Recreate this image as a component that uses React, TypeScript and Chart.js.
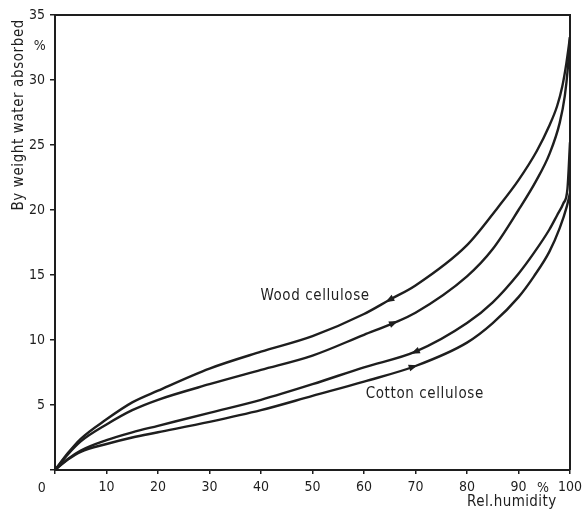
import React, { useEffect, useRef } from "react";
import { Chart, registerables } from "chart.js";

Chart.register(...registerables);

// Relative humidity (%) sample positions and water absorbed (% by weight)
const woodDesX = [0, 2.5, 5, 10, 15, 20, 30, 40, 50, 60, 65, 70, 80, 86, 90, 93.5, 96, 97.5, 98.5, 99.3, 100];
const woodDesY = [0, 1.3, 2.4, 3.9, 5.2, 6.1, 7.8, 9.1, 10.3, 12.0, 13.1, 14.2, 17.3, 20.2, 22.3, 24.5, 26.5, 28.0, 29.5, 31.3, 33.3];

const woodAbsX = [0, 2.5, 5, 10, 15, 20, 30, 40, 50, 60, 65.7, 70, 80, 85, 90, 93.5, 96, 98, 99, 99.6, 100];
const woodAbsY = [0, 1.2, 2.2, 3.5, 4.6, 5.4, 6.6, 7.7, 8.8, 10.4, 11.3, 12.1, 14.9, 17.0, 20.0, 22.3, 24.3, 26.7, 28.8, 31.0, 33.3];

const cottonDesX = [0, 2.5, 5, 10, 15, 20, 30, 40, 50, 60, 70, 80, 85, 90, 93, 96, 97.5, 98.7, 99.5, 100];
const cottonDesY = [0, 0.85, 1.5, 2.3, 2.9, 3.4, 4.4, 5.4, 6.6, 7.9, 9.1, 11.3, 12.9, 15.1, 16.7, 18.5, 19.6, 20.5, 21.6, 25.2];

const cottonAbsX = [0, 2.5, 5, 10, 15, 20, 30, 40, 50, 60, 70, 80, 85, 90, 93, 96, 98, 99.4, 100];
const cottonAbsY = [0, 0.8, 1.4, 2.0, 2.5, 2.9, 3.7, 4.6, 5.7, 6.8, 8.0, 9.8, 11.3, 13.3, 14.9, 16.8, 18.6, 20.3, 21.3];

// Direction arrows: which series, at which humidity, pointing (-1 = toward lower RH, 1 = toward higher RH)
const arrowSeries = [0, 1, 2, 3];
const arrowAt = [65, 65.7, 70, 69.5];
const arrowDir = [-1, 1, -1, 1];

// Curve labels (text, and data position of the text centre)
const labelTexts = ["Wood cellulose", "Cotton cellulose"];
const labelX = [50.5, 71.8];
const labelY = [13.4, 5.8];

const xTicks = [0, 10, 20, 30, 40, 50, 60, 70, 80, 90, 100];
const yTicks = [0, 5, 10, 15, 20, 25, 30, 35];

const yTitle = "By weight water absorbed";
const xTitle = "Rel.humidity";

const INK = "#1e1e1e";
const FONT = "'DejaVu Sans Condensed', 'DejaVu Sans', sans-serif";

const seriesXs = [woodDesX, woodAbsX, cottonDesX, cottonAbsX];
const seriesYs = [woodDesY, woodAbsY, cottonDesY, cottonAbsY];
const seriesNames = ["Wood cellulose (desorption)", "Wood cellulose (absorption)", "Cotton cellulose (desorption)", "Cotton cellulose (absorption)"];

function interp(xs: number[], ys: number[], x: number): number {
  for (let i = 0; i < xs.length - 1; i++) {
    if (x >= xs[i] && x <= xs[i + 1]) {
      const t = (x - xs[i]) / (xs[i + 1] - xs[i]);
      return ys[i] + t * (ys[i + 1] - ys[i]);
    }
  }
  return ys[ys.length - 1];
}

const decor = {
  id: "decor",
  afterDatasetsDraw(chart: any) {
    const { ctx, chartArea: a, scales } = chart;
    const xs = scales.x;
    const ys = scales.y;
    ctx.save();
    // frame top & right
    ctx.strokeStyle = INK;
    ctx.lineWidth = 2;
    ctx.beginPath();
    ctx.moveTo(a.left, a.top);
    ctx.lineTo(a.right, a.top);
    ctx.lineTo(a.right, a.bottom);
    ctx.stroke();

    // arrows
    ctx.fillStyle = INK;
    arrowSeries.forEach((s, i) => {
      const xv = arrowAt[i];
      const sx = seriesXs[s];
      const sy = seriesYs[s];
      const px = xs.getPixelForValue(xv);
      const py = ys.getPixelForValue(interp(sx, sy, xv));
      const px1 = xs.getPixelForValue(xv - 1);
      const py1 = ys.getPixelForValue(interp(sx, sy, xv - 1));
      const px2 = xs.getPixelForValue(xv + 1);
      const py2 = ys.getPixelForValue(interp(sx, sy, xv + 1));
      let ang = Math.atan2(py2 - py1, px2 - px1);
      if (arrowDir[i] < 0) ang += Math.PI;
      ctx.save();
      ctx.translate(px, py);
      ctx.rotate(ang);
      ctx.beginPath();
      ctx.moveTo(5, 0);
      ctx.lineTo(-4, -3.4);
      ctx.lineTo(-4, 3.4);
      ctx.closePath();
      ctx.fill();
      ctx.restore();
    });

    // curve labels
    ctx.fillStyle = INK;
    ctx.font = `15px ${FONT}`;
    ctx.textAlign = "center";
    ctx.textBaseline = "middle";
    (ctx as any).letterSpacing = "0.6px";
    labelTexts.forEach((t, i) => {
      ctx.fillText(t, xs.getPixelForValue(labelX[i]), ys.getPixelForValue(labelY[i]));
    });

    // axis titles and extras
    ctx.font = `14px ${FONT}`;
    (ctx as any).letterSpacing = "0.4px";
    ctx.textAlign = "center";
    ctx.fillText("0", a.left - 13, a.bottom + 18);
    ctx.fillText("%", a.left - 15, a.top + 31);
    ctx.fillText("%", xs.getPixelForValue(94.8), a.bottom + 18);
    ctx.font = `15px ${FONT}`;
    ctx.fillText(xTitle, xs.getPixelForValue(88.7), a.bottom + 32);

    ctx.save();
    ctx.translate(19, a.top);
    ctx.rotate(-Math.PI / 2);
    ctx.textAlign = "right";
    (ctx as any).letterSpacing = "0.6px";
    ctx.fillText(yTitle, -4, 0);
    ctx.restore();

    ctx.restore();
  },
};

export default function App() {
  const ref = useRef<HTMLCanvasElement | null>(null);

  useEffect(() => {
    if (!ref.current) return;
    const chart = new Chart(ref.current, {
      type: "scatter",
      data: {
        datasets: seriesXs.map((xsArr, s) => ({
          label: seriesNames[s],
          data: xsArr.map((x, i) => ({ x, y: seriesYs[s][i] })),
          showLine: true,
          borderColor: INK,
          borderWidth: 2.4,
          pointRadius: 0,
          fill: false,
          cubicInterpolationMode: "monotone" as const,
        })),
      },
      options: {
        responsive: false,
        animation: false,
        devicePixelRatio: 1,
        layout: { padding: { top: 15, right: 15, left: 0, bottom: 0 } },
        plugins: {
          legend: { display: false },
          tooltip: { enabled: false },
        },
        scales: {
          x: {
            type: "linear",
            min: 0,
            max: 100,
            afterBuildTicks: (sc: any) => {
              sc.ticks = xTicks.map((v) => ({ value: v }));
            },
            afterFit: (sc: any) => {
              sc.height = 40;
              sc.paddingLeft = 0;
              sc.paddingRight = 0;
            },
            ticks: {
              color: INK,
              font: { family: FONT, size: 14 },
              padding: 5,
              maxRotation: 0,
              autoSkip: false,
              callback: (v: any) => (v === 0 ? "" : String(v)),
            },
            grid: { drawOnChartArea: false, tickLength: 4, color: INK, lineWidth: 1.5 },
            border: { color: INK, width: 2 },
          },
          y: {
            type: "linear",
            min: 0,
            max: 35,
            afterBuildTicks: (sc: any) => {
              sc.ticks = yTicks.map((v) => ({ value: v }));
            },
            afterFit: (sc: any) => {
              sc.width = 55;
              sc.paddingTop = 0;
              sc.paddingBottom = 0;
            },
            ticks: {
              color: INK,
              font: { family: FONT, size: 14 },
              padding: 5,
              autoSkip: false,
              callback: (v: any) => (v === 0 ? "" : String(v)),
            },
            grid: { drawOnChartArea: false, tickLength: 5, color: INK, lineWidth: 1.5 },
            border: { color: INK, width: 2 },
          },
        },
      },
      plugins: [decor],
    });
    return () => chart.destroy();
  }, []);

  return (
    <div style={{ position: "fixed", left: 0, top: 0, width: 585, height: 510, background: "#fff" }}>
      <canvas ref={ref} width={585} height={510} />
    </div>
  );
}
